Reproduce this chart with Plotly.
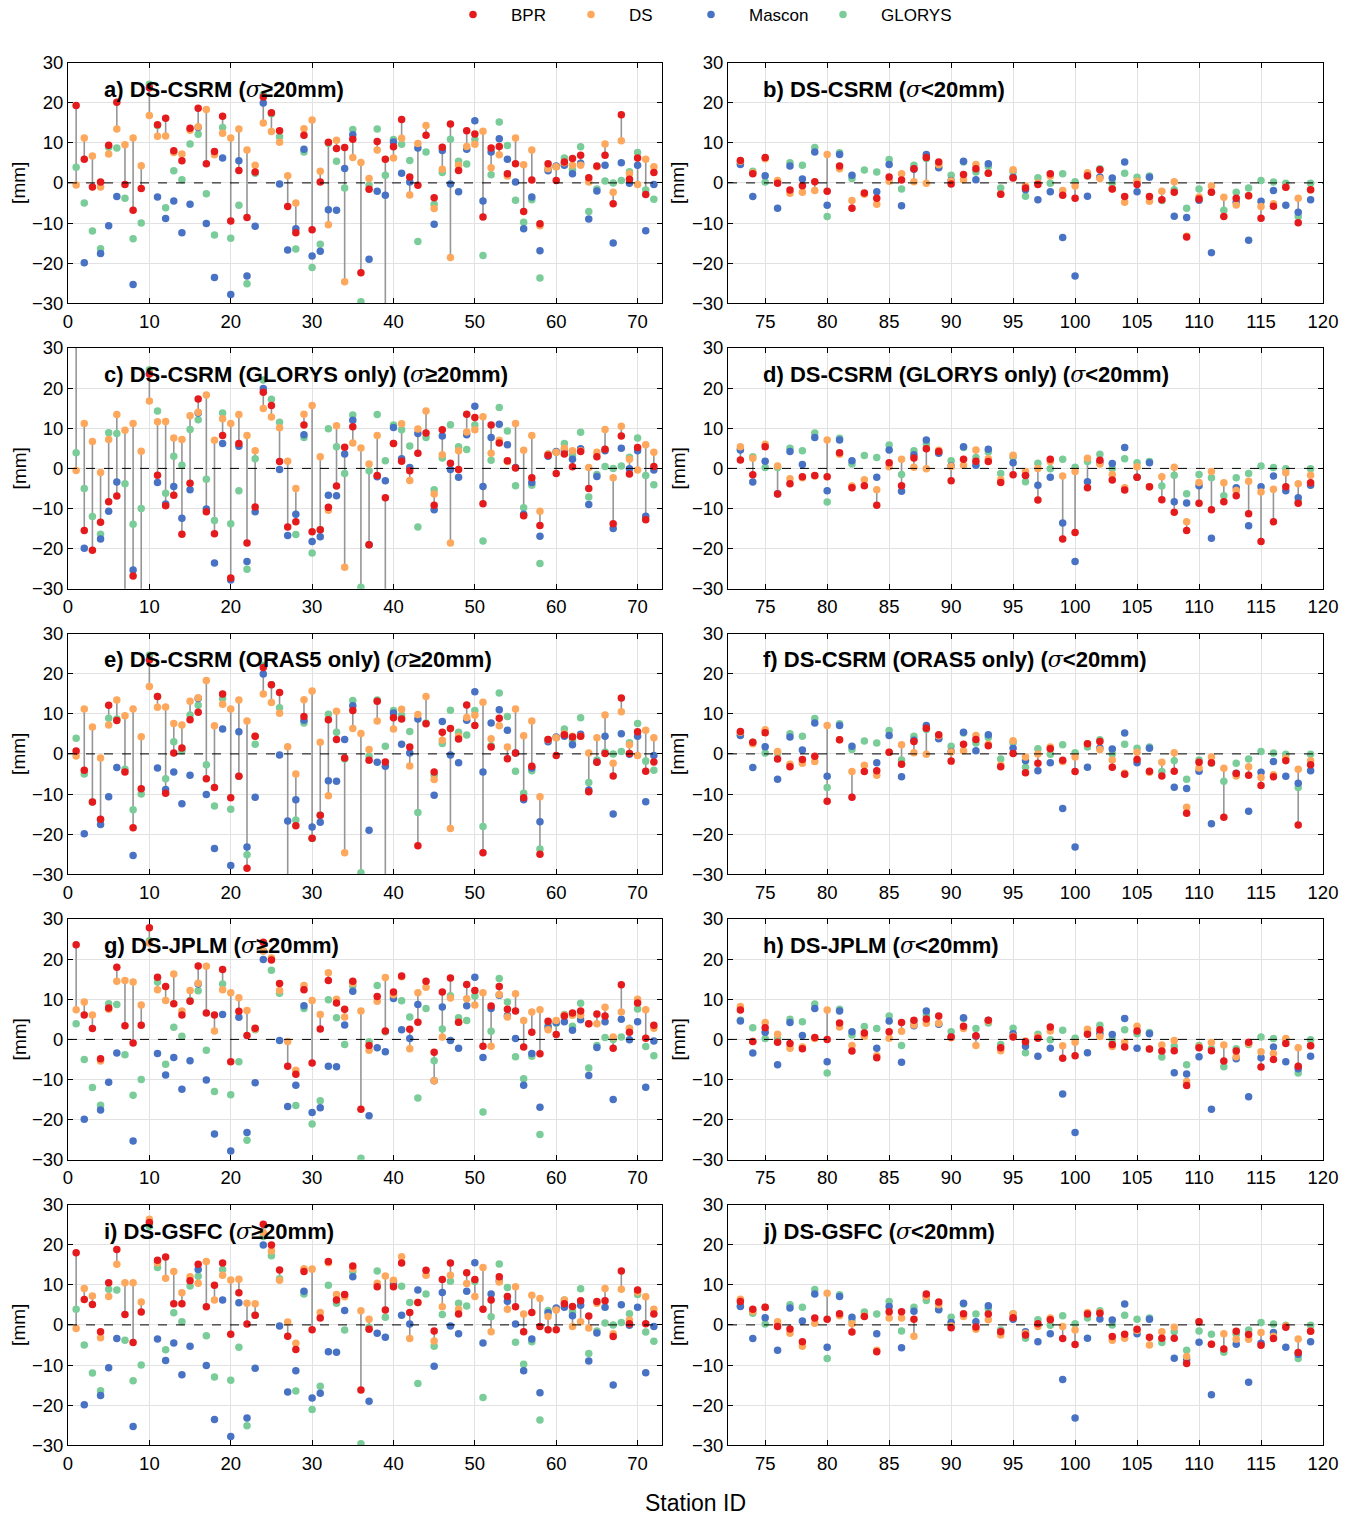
import plotly.graph_objects as go

# ---------------- data ----------------
stations_left = list(range(1, 73))     # sigma >= 20 mm
stations_right = list(range(73, 120))  # sigma < 20 mm

mascon_left = [None, -19.9, None, -17.6, -10.7, -3.4, None, -25.3, None, None,
               -3.5, -8.9, -4.5, -12.4, -5.3, 13.8, -10.1, -23.6, 6.2, -27.8,
               5.5, -23.2, -10.8, 19.9, None, -0.3, -16.7, -11.4, 8.4, -18.2,
               -17.0, -6.7, -6.8, 3.6, 12.0, None, -19.0, -2.1, -3.1, 10.2,
               2.4, 0.2, 8.7, None, -10.3, 8.1, -0.3, -2.2, 8.4, 15.5,
               -4.5, 7.7, 11.0, 5.9, 0.2, -11.4, -3.5, -16.9, 3.0, 4.2,
               4.4, 2.3, 4.9, -9.0, -2.0, 4.4, -15.0, 5.0, -0.1, 4.4,
               -11.9, -0.4]
mascon_right = [4.6, -3.4, 1.8, -6.3, 4.2, 1.0, 7.7, -5.6, 7.1, 1.9,
                None, -2.2, 4.6, -5.7, 3.4, 7.1, 3.8, 0.6, 5.4, 0.8,
                4.8, None, 1.4, -1.7, -4.2, -2.2, -13.6, -23.2, -3.3, 1.5,
                1.2, 5.2, -2.2, 1.4, None, -8.3, -8.6, -4.3, -17.4, None,
                -4.8, -14.3, -4.6, -1.9, -5.6, -7.3, -4.2]

glorys_left = [3.9, -5.0, -12.0, -16.4, 8.9, 8.7, -3.8, -13.9, -10.0, 24.6,
               14.3, -6.2, 3.0, 0.8, 9.7, 12.1, -2.7, -13.0, 13.8, -13.8,
               -5.6, -25.1, 2.4, 22.0, 17.2, 11.5, None, -16.5, 7.7, -21.1,
               -15.3, 9.9, 5.4, -1.3, 13.3, -29.6, -0.6, 13.4, 1.9, 10.8,
               9.6, 5.6, -14.6, 7.7, -5.3, 2.6, 10.9, 5.4, 4.7, 10.8,
               -18.1, 2.0, 15.2, 9.3, -4.3, -9.8, -4.2, -23.7, 3.6, 4.0,
               6.2, 3.3, 9.0, -7.1, -1.5, 0.5, 0.0, 0.6, 2.8, 7.6,
               -1.8, -4.1]
glorys_right = [4.8, 2.9, 0.2, 0.2, 5.0, 4.4, 8.8, -8.4, 7.5, 1.1,
                3.2, 2.7, 5.8, -1.5, 4.4, 6.1, 3.9, 1.9, 5.2, 2.7,
                4.1, -1.3, 2.8, -3.3, 1.3, -0.1, 2.3, 0.3, 1.7, 3.5,
                0.0, 2.4, 1.4, 1.7, -4.4, -1.7, -6.3, -1.5, -2.3, -6.8,
                -2.3, -1.3, 0.6, 0.2, -0.1, -8.4, -0.1]

ds_csrm_left = [-0.5, 11.2, 6.7, -1.0, 7.2, 13.4, 9.5, 11.2, 4.3, 16.8,
                11.6, 11.7, 7.6, 7.2, 13.1, 14.0, 18.3, 7.0, 12.4, 11.2,
                13.4, 8.2, 4.4, 14.9, 12.8, 10.1, 1.8, -5.0, 13.5, 15.7,
                2.9, -10.4, 10.6, -24.6, 6.3, 5.1, 1.1, 8.2, -35.0, 6.2,
                11.1, -3.0, 9.8, 14.3, -6.4, 3.4, -18.6, 4.4, 9.1, 9.6,
                12.9, 3.8, 7.0, 1.7, 11.2, 4.5, 8.2, -10.7, 3.5, 4.0,
                5.0, 4.4, 4.4, 0.2, 4.0, 9.7, -2.3, 10.5, 2.3, -0.4,
                5.9, 4.0]
ds_csrm_right = [5.4, 2.5, 6.0, 0.6, -2.6, -2.3, -1.9, 7.1, 3.5, -4.4,
                 -2.8, -5.3, 0.4, 2.3, 0.3, -0.1, 4.5, 0.5, 0.8, 4.6,
                 2.4, -2.8, 3.3, -0.8, 0.0, 1.7, -1.9, -0.8, 2.5, 1.1,
                 -1.5, -4.8, 0.4, -4.6, -2.1, 0.3, -13.3, -3.5, -0.8, -3.6,
                 -5.5, -3.2, -5.9, -5.2, -1.1, -3.8, -1.7]

ds_jplm_left = [7.4, 9.3, 6.1, -5.4, 7.5, 14.5, 14.7, 14.3, 8.6, 24.0,
                12.4, 9.7, 16.3, 7.1, 12.2, 14.0, 18.2, 2.1, 12.4, 11.6,
                10.4, 7.2, 2.6, 22.0, 20.3, 12.2, -0.5, -7.7, 13.4, 9.7,
                6.2, 16.6, 10.0, 5.6, 14.0, 7.1, -2.7, 9.5, 15.4, 11.1,
                15.6, -2.3, 11.6, 13.0, -10.3, 0.6, 10.3, 4.3, 10.1, 8.6,
                11.6, -1.7, 11.2, 5.6, 11.4, 4.7, 6.8, 7.4, 2.4, 4.7,
                6.0, 6.0, 6.0, 3.9, 3.9, 8.0, 0.6, 6.8, 2.7, 10.0,
                7.4, 2.8]
ds_jplm_right = [8.2, -0.5, 4.2, 1.3, -2.2, -1.9, 0.2, 7.3, 3.1, -1.5,
                 0.8, -4.1, 0.3, 2.0, 3.6, 4.0, 4.0, 0.4, 2.7, -1.5,
                 4.6, -2.8, 0.8, -0.4, 0.6, 2.1, -1.6, -0.7, 2.5, 0.7,
                 -1.8, -0.7, 3.3, -2.4, -1.4, -0.3, -10.5, -1.9, -0.8, -1.4,
                 -4.3, -1.0, -3.1, -3.5, 0.2, -2.1, -1.6]

ds_gsfc_left = [-0.9, 9.1, 7.2, -3.2, 7.1, 15.1, 10.5, 10.5, 5.7, 26.3,
                15.4, 11.6, 13.3, 8.0, 12.0, 10.4, 15.8, 6.2, 12.4, 11.2,
                11.4, 5.4, 5.3, 23.0, 18.4, 11.1, 0.7, -4.6, 14.0, 13.9,
                3.1, 15.5, 7.6, 7.0, 14.0, 3.5, 1.4, 10.4, 12.2, 11.1,
                17.0, -3.4, 5.6, 12.4, -4.0, 4.5, 12.4, 3.9, 10.3, 7.1,
                14.3, -1.7, 10.7, 3.9, 9.5, 2.7, 7.4, 6.6, 2.1, 3.7,
                6.2, -0.4, 0.8, -0.8, 5.4, 9.1, -2.2, 8.9, 1.2, 8.2,
                7.0, 3.9]
ds_gsfc_right = [6.4, 3.4, 4.4, 0.8, -2.1, -5.3, 0.4, 7.9, 2.3, 0.3,
                 2.2, -6.3, 1.7, 1.7, -2.8, 7.1, 5.0, -0.3, 2.1, -1.1,
                 1.3, -2.5, 2.8, -2.1, -0.4, 1.7, -0.4, -1.3, 3.1, 3.1,
                 -3.8, -3.3, -1.4, -5.0, -1.7, -0.6, -7.9, 0.8, -4.8, -2.2,
                 -3.6, -3.6, -1.9, -2.8, -0.3, -3.5, -1.6]

bpr_csrm_left = [19.3, 5.9, -1.0, 0.2, 9.4, 20.1, -0.4, -6.8, -1.4, 23.7,
                 14.5, 16.1, 8.0, 5.5, 13.6, 18.6, 4.8, 7.8, 16.6, -9.5,
                 3.1, -8.6, 2.7, 21.4, 17.5, 13.0, -5.9, -12.4, 11.9, -11.7,
                 0.2, 10.1, 8.6, 8.8, 10.9, -22.4, -1.6, 10.3, 5.9, 9.0,
                 15.8, 1.5, -0.6, 11.9, -3.7, 8.9, 14.7, 3.1, 13.0, 12.2,
                 -8.5, 8.7, 9.1, 2.3, 4.8, -7.1, 0.7, -10.2, 4.8, 0.6,
                 5.2, 6.1, 6.9, 1.3, 4.2, 6.9, -5.2, 17.0, 0.9, 6.2,
                 -2.9, 2.6]
bpr_csrm_right = [5.6, 2.3, 6.3, -0.1, -1.8, -0.7, 0.3, -2.1, 4.2, -6.3,
                  -2.5, -3.8, 1.5, 0.7, 3.5, 6.3, 5.2, -0.3, 2.1, 3.5,
                  2.4, -2.8, 1.2, -1.3, -0.4, 2.3, -3.1, -3.8, 1.8, 3.3,
                  -1.5, -3.4, -0.4, -3.4, -4.2, -2.3, -13.5, -4.0, -2.3, -8.4,
                  -3.8, -3.2, -8.8, -5.8, -1.1, -9.9, -1.7]

bpr_glorys_left = [36.0, -15.5, -20.4, -13.4, -8.3, -6.9, -35.0, -26.8, -33.0, 23.5,
                   -1.7, -9.3, -6.7, -16.4, -3.7, 17.3, -10.8, -16.3, 8.2, -27.3,
                   6.2, -18.6, -9.6, 19.0, 15.7, 1.7, -14.6, -13.3, 10.8, -15.8,
                   -15.3, -9.7, -4.4, 5.3, 10.4, -33.0, -19.0, -1.8, -7.3, 6.2,
                   1.8, -0.6, 3.8, 8.8, -9.2, 9.6, 1.3, -0.3, 13.5, 12.7,
                   -8.8, 10.8, 6.3, 1.9, 0.1, -11.8, -2.3, -14.2, 3.3, -1.3,
                   3.6, 0.4, 4.2, -5.0, 2.9, 4.8, -13.8, 8.1, -1.4, 5.2,
                   -12.8, 0.5]
bpr_glorys_right = [2.1, -1.6, 5.4, -6.4, -3.8, -2.1, -1.8, -2.1, 3.9, -4.8,
                    -4.3, -9.2, 1.4, -4.3, 2.6, 4.9, 4.2, -3.1, 2.3, 1.8,
                    1.7, -3.5, -1.6, -1.8, -7.9, 2.3, -17.6, -16.0, -4.8, 2.0,
                    -2.9, -5.4, -2.2, -4.6, -7.8, -10.9, -15.5, -8.7, -10.3, -8.3,
                    -6.8, -11.3, -18.2, -13.3, -4.6, -8.7, -3.6]

bpr_oras5_left = [0.7, -4.1, -12.0, -16.3, 12.1, 8.3, -4.5, -18.4, -8.7, 23.4,
                  14.3, -9.8, 0.2, 1.5, 8.5, 10.4, -6.2, -8.4, 14.9, -10.9,
                  -5.6, -28.5, 4.4, 21.5, 17.2, 15.3, -34.0, -17.9, 9.3, -21.0,
                  -15.3, 8.5, 3.6, -1.0, 10.8, -33.0, -1.6, 13.1, -2.0, 9.0,
                  8.7, 1.7, -22.9, 7.5, -4.5, 5.4, 6.3, 3.7, 12.2, 7.1,
                  -24.6, 1.7, 8.9, -1.2, 0.2, -10.9, -3.1, -25.0, 3.6, -0.4,
                  4.8, 4.2, 4.4, -9.4, -2.1, 0.1, -5.5, 13.9, 0.1, 5.5,
                  -4.3, -2.0]
bpr_oras5_right = [5.6, 2.9, 5.3, -1.3, -3.2, -1.4, -0.6, -11.8, 3.5, -10.8,
                   -4.4, -4.2, 0.4, -2.6, 3.1, 6.4, 4.8, -1.8, 2.4, 3.6,
                   2.0, -3.2, 0.1, -4.7, -2.3, 1.3, -1.6, -4.4, 2.5, 3.1,
                   -3.3, -5.1, -1.4, -4.3, -5.5, -4.3, -14.8, -2.1, -2.2, -15.8,
                   -4.9, -5.3, -7.9, -5.7, -1.7, -17.7, -2.7]

bpr_jplm_left = [23.6, 6.1, 2.7, -4.8, 7.8, 18.0, 3.4, -0.9, 3.5, 27.8,
                 15.5, 13.2, 8.9, 6.1, 9.5, 18.3, 6.6, 6.1, 17.4, -5.6,
                 7.0, 1.0, 2.8, 24.2, 19.8, 13.9, -6.7, -8.7, 12.4, -5.9,
                 2.6, 14.7, 9.1, 7.5, 14.5, -17.4, -1.5, 10.7, 2.1, 11.8,
                 15.8, 2.5, 4.3, 14.5, -3.2, 11.8, 15.3, 4.3, 13.7, 12.2,
                 -1.7, 8.3, 13.2, 7.5, 7.1, -1.9, 1.8, -3.6, 4.5, 1.2,
                 5.8, 6.6, 7.1, 3.9, 6.3, 5.8, -2.2, 13.6, 1.8, 9.1,
                 0.3, 3.5]
bpr_jplm_right = [7.3, -0.5, 2.9, -0.7, -1.0, -2.3, 0.5, 0.0, 4.1, -2.9,
                  1.6, -4.6, 1.9, 4.2, 4.8, 5.1, 5.8, 0.6, 3.3, 0.9,
                  4.8, -2.1, 0.6, -0.6, 0.3, 3.1, -4.7, -4.1, 1.3, 2.4,
                  -1.3, -1.9, 2.1, -2.4, -2.9, -2.8, -11.5, -2.1, -2.8, -5.4,
                  -2.9, -0.7, -6.9, -5.0, -1.0, -6.7, -1.6]

bpr_gsfc_left = [18.0, 6.3, 5.1, -1.7, 10.5, 18.8, 2.6, -4.4, 3.2, 25.5,
                 16.1, 16.9, 5.3, 5.3, 11.0, 15.1, 4.5, 9.9, 15.4, -2.3,
                 8.0, 0.2, 2.4, 25.1, 19.9, 13.7, -2.8, -6.1, 13.3, -1.2,
                 1.7, 15.8, 6.2, 7.6, 14.7, -16.2, -1.1, 9.5, 3.7, 9.5,
                 15.4, 3.1, 5.6, 13.6, -1.5, 11.3, 15.4, 2.7, 13.0, 11.3,
                 3.9, 6.2, 12.0, 7.1, 4.5, -1.7, 3.1, -0.4, -1.2, -1.2,
                 5.3, 4.6, 6.0, 2.2, 5.8, 6.0, -2.9, 13.4, 0.3, 8.7,
                 0.3, 2.7]
bpr_gsfc_right = [5.8, 3.9, 4.4, -0.4, -1.0, -4.2, 1.7, 1.4, 2.8, -1.8,
                  2.1, -6.7, 3.3, 3.3, 1.4, 7.7, 5.7, -0.7, 2.8, -0.5,
                  2.7, -1.7, 1.8, -2.5, 0.3, 1.3, -3.4, -4.9, 2.7, 2.9,
                  -2.9, -2.3, -1.1, -3.1, -3.3, -3.3, -9.6, 0.8, -4.8, -6.0,
                  -1.6, -2.4, -5.1, -3.4, -0.6, -6.9, -1.6]

y_ticks = [-30, -20, -10, 0, 10, 20, 30]
x_ticks_left = [0, 10, 20, 30, 40, 50, 60, 70]
x_ticks_right = [75, 80, 85, 90, 95, 100, 105, 110, 115, 120]

# ---------------- geometry ----------------
FW, FH = 1354, 1517


def fx(px):
    return px / FW


def fy(py):
    return 1 - py / FH


FONT = "Liberation Sans, Arial, sans-serif"
C_BPR = "rgb(228,26,28)"
C_DS = "rgb(253,168,92)"
C_MAS = "rgb(72,114,196)"
C_GLO = "rgb(122,204,152)"
C_LINK = "rgb(150,150,150)"
MS = 7.5

rows = [
    ("DS-CSRM", bpr_csrm_left, bpr_csrm_right, ds_csrm_left, ds_csrm_right),
    ("DS-CSRM (GLORYS only)", bpr_glorys_left, bpr_glorys_right, ds_csrm_left, ds_csrm_right),
    ("DS-CSRM (ORAS5 only)", bpr_oras5_left, bpr_oras5_right, ds_csrm_left, ds_csrm_right),
    ("DS-JPLM", bpr_jplm_left, bpr_jplm_right, ds_jplm_left, ds_jplm_right),
    ("DS-GSFC", bpr_gsfc_left, bpr_gsfc_right, ds_gsfc_left, ds_gsfc_right),
]
letters = "abcdefghij"

col_px = [(68, 662), (728, 1323)]
row_top = [62.5, 348, 633.5, 919, 1204.5]
row_h = 240.8

fig = go.Figure()
layout = dict(width=FW, height=FH, margin=dict(l=0, r=0, t=0, b=0, autoexpand=False),
              paper_bgcolor="white", plot_bgcolor="white",
              font=dict(family=FONT, size=18, color="black"),
              showlegend=True)
annotations = []
shapes = []

axis_common = dict(showline=True, linecolor="black", linewidth=1, mirror="ticks",
                   ticks="inside", ticklen=5, tickcolor="black", tickwidth=1,
                   showgrid=True, gridcolor="rgb(226,226,226)", gridwidth=1,
                   zeroline=False, tickfont=dict(family=FONT, size=18.5, color="black"))

legend_names = {"BPR": "legend", "DS": "legend2", "Mascon": "legend3", "GLORYS": "legend4"}
legend_marker_x = {"BPR": 472, "DS": 590, "Mascon": 710, "GLORYS": 842}

idx = 0
for r, (name, bl, br, dl, dr) in enumerate(rows):
    for c in range(2):
        idx += 1
        xs = stations_left if c == 0 else stations_right
        bpr = bl if c == 0 else br
        ds = dl if c == 0 else dr
        mas = mascon_left if c == 0 else mascon_right
        glo = glorys_left if c == 0 else glorys_right
        xa = "x" if idx == 1 else f"x{idx}"
        ya = "y" if idx == 1 else f"y{idx}"
        first = idx == 1

        lx, ly = [], []
        for s, b, d in zip(xs, bpr, ds):
            if b is not None and d is not None:
                lx += [s, s, None]
                ly += [b, d, None]
        fig.add_trace(go.Scatter(x=lx, y=ly, mode="lines", xaxis=xa, yaxis=ya,
                                 line=dict(color=C_LINK, width=1.6),
                                 showlegend=False, hoverinfo="skip"))
        for label, vals, col in [("GLORYS", glo, C_GLO), ("Mascon", mas, C_MAS),
                                 ("DS", ds, C_DS), ("BPR", bpr, C_BPR)]:
            fig.add_trace(go.Scatter(x=xs, y=vals, mode="markers", name=label,
                                     xaxis=xa, yaxis=ya, legend=legend_names[label],
                                     marker=dict(color=col, size=MS, line=dict(width=0)),
                                     showlegend=first))

        x0, x1 = col_px[c]
        top = row_top[r]
        bot = top + row_h
        xkey = "xaxis" if idx == 1 else f"xaxis{idx}"
        ykey = "yaxis" if idx == 1 else f"yaxis{idx}"
        layout[xkey] = dict(axis_common, domain=[fx(x0), fx(x1)], anchor=ya,
                            range=[0, 73] if c == 0 else [72, 120],
                            tickvals=x_ticks_left if c == 0 else x_ticks_right,
                            ticklabelstandoff=1)
        layout[ykey] = dict(axis_common, domain=[fy(bot), fy(top)], anchor=xa,
                            range=[-30, 30], tickvals=y_ticks)
        shapes.append(dict(type="line", xref=f"{xa} domain", yref=ya, x0=0, x1=1,
                           y0=0, y1=0, layer="above",
                           line=dict(color="black", width=1, dash="dash")))
        sig = "≥" if c == 0 else "<"
        title = (f"<b>{letters[idx-1]}) {name} (</b><span style='font-family:DejaVu Serif'><i>σ</i></span>"
                 f"<b>{sig}20mm)</b>")
        annotations.append(dict(text=title, xref="paper", yref="paper",
                                x=fx(102 if c == 0 else 761), y=fy(top + 26.5),
                                xanchor="left", yanchor="middle", showarrow=False,
                                font=dict(family=FONT, size=22, color="black")))
        annotations.append(dict(text="[mm]", xref="paper", yref="paper",
                                x=fx(19 if c == 0 else 678), y=fy(top + row_h / 2),
                                xanchor="center", yanchor="middle", textangle=-90,
                                showarrow=False, font=dict(family=FONT, size=19, color="black")))

annotations.append(dict(text="Station ID", xref="paper", yref="paper", x=fx(695),
                        y=fy(1503), xanchor="center", yanchor="middle",
                        showarrow=False, font=dict(family=FONT, size=23, color="black")))

layout["annotations"] = annotations
layout["shapes"] = shapes
for label, key in legend_names.items():
    layout[key] = dict(orientation="h", x=fx(legend_marker_x[label] - 37), xanchor="left",
                       y=fy(15), yanchor="middle", font=dict(family=FONT, size=17),
                       itemwidth=66, bgcolor="rgba(0,0,0,0)")
fig.update_layout(**layout)
fig.write_html("out.html",
               post_script="document.body.style.margin='0px';"
                           "document.documentElement.style.overflow='hidden';")
